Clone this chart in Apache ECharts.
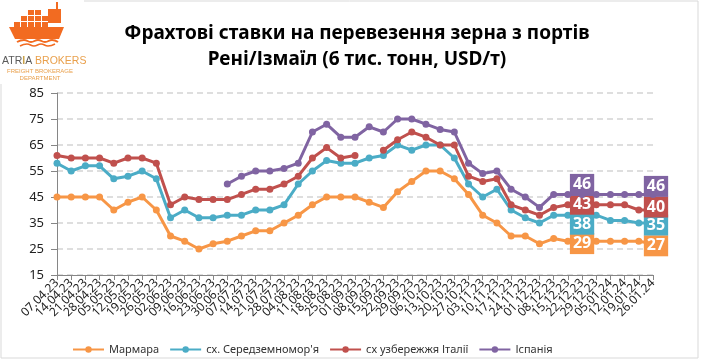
<!DOCTYPE html>
<html><head><meta charset="utf-8">
<script src="https://cdn.jsdelivr.net/npm/echarts@6/dist/echarts.min.js"></script>
<style>html,body{margin:0;padding:0;background:#fff}#c{width:703px;height:362px}</style>
</head><body><div id="c"></div>
<script>
const categories = ['07.04.23','14.04.23','21.04.23','28.04.23','05.05.23','12.05.23','19.05.23','26.05.23','02.06.23','09.06.23','16.06.23','23.06.23','30.06.23','07.07.23','14.07.23','21.07.23','28.07.23','04.08.23','11.08.23','18.08.23','25.08.23','01.09.23','08.09.23','15.09.23','22.09.23','29.09.23','06.10.23','13.10.23','20.10.23','27.10.23','03.11.23','10.11.23','17.11.23','24.11.23','01.12.23','08.12.23','15.12.23','22.12.23','29.12.23','05.01.24','12.01.24','19.01.24','26.01.24'];
const marmara = [45,45,45,45,40,43,45,40,30,28,25,27,28,30,32,32,35,38,42,45,45,45,43,41,47,51,55,55,52,46,38,35,30,30,27,29,28,29,28,28,28,28,27];
const medEast = [58,55,57,57,52,53,55,52,37,40,37,37,38,38,40,40,42,50,55,59,58,58,60,61,65,63,65,65,60,50,45,48,40,37,35,38,38,38,38,36,36,35,35];
const italy = [61,60,60,60,58,60,60,58,42,45,44,44,44,46,48,48,50,53,60,64,60,61,null,63,67,70,68,65,65,53,51,52,42,40,38,41,42,43,42,42,42,40,40];
const spain = [null,null,null,null,null,null,null,null,null,null,null,null,50,53,55,55,56,58,70,73,68,68,72,70,75,75,73,71,70,58,54,55,48,45,41,46,46,46,46,46,46,46,46];
const seriesNames = ['Мармара', "сх. Середземномор'я", 'сх узбережжя Італії', 'Іспанія'];
const yMin = 15, yMax = 85, yStep = 10;
const labelIndices = [37, 42];

const colors = ['#F79646', '#4BACC6', '#C0504D', '#8064A2'];
const labelOffsets = [
  {37: [0, 5], 42: [3, 2]},
  {37: [0, 9], 42: [3, 2]},
  {37: [0, 2], 42: [3, -3]},
  {37: [0, -10], 42: [3, -8]}
];
const FONT = 'Noto Sans';

function build(values, si) {
  return values.map((v, i) => {
    if (labelIndices.includes(i) && v != null) {
      return {
        value: v,
        label: {
          show: true, position: 'inside', offset: labelOffsets[si][i],
          color: '#fff', fontWeight: 'bold', fontSize: 16, fontFamily: FONT,
          backgroundColor: colors[si], padding: [1, 3, 1, 3], lineHeight: 19
        }
      };
    }
    return v;
  });
}
const allValues = [marmara, medEast, italy, spain];
const series = allValues.map((vals, si) => ({
  name: seriesNames[si], type: 'line', data: build(vals, si),
  symbol: 'circle', symbolSize: 7, connectNulls: false,
  lineStyle: {width: 3, color: colors[si]},
  itemStyle: {color: colors[si]},
  emphasis: {disabled: true}, z: 2 + si, animation: false
}));

const chart = echarts.init(document.getElementById('c'), null, {renderer: 'canvas'});
const logoOrange = '#F26B21';
const containers = [];
[[28,10],[35,10],[21,16],[28,16],[35,16],[42,16],[14,22],[21,22],[28,22],[35,22],[42,22]].forEach(p => {
  containers.push({type: 'rect', shape: {x: p[0], y: p[1], width: 6, height: 5}, style: {fill: logoOrange}});
});
chart.setOption({
  animation: false,
  color: colors,
  title: {
    text: 'Фрахтові ставки на перевезення зерна з портів\nРені/Ізмаїл (6 тис. тонн, USD/т)',
    left: 352, top: 16, textAlign: 'center',
    textStyle: {fontFamily: FONT, fontSize: 19, fontWeight: 'bold', color: '#000', lineHeight: 26}
  },
  legend: {
    left: 67, top: 339, itemWidth: 31, itemHeight: 8, itemGap: 10,
    textStyle: {fontFamily: FONT, fontSize: 11, color: '#333'},
    data: seriesNames
  },
  grid: {left: 57, right: 50, top: 93, bottom: 87},
  xAxis: {
    type: 'category', data: categories, boundaryGap: false,
    axisLine: {lineStyle: {color: '#868686', width: 1}},
    axisTick: {show: true, interval: 0, length: 5, lineStyle: {color: '#868686'}},
    axisLabel: {interval: 0, rotate: 45, fontSize: 12, fontFamily: FONT, color: '#222', margin: 6}
  },
  yAxis: {
    type: 'value', min: yMin, max: yMax, interval: yStep,
    axisLine: {show: true, lineStyle: {color: '#868686', width: 1}},
    axisTick: {show: true, length: 6, lineStyle: {color: '#868686'}},
    axisLabel: {fontSize: 13, fontFamily: FONT, color: '#222', margin: 13},
    splitLine: {show: true, lineStyle: {color: '#D4D4D4', type: [6, 4], width: 1.5}}
  },
  graphic: [
    {type: 'rect', shape: {x: 1, y: 1, width: 697, height: 357}, style: {fill: 'none', stroke: '#D9D9D9', lineWidth: 1}, z: -10},
    {type: 'rect', shape: {x: 0, y: 0, width: 84, height: 84}, style: {fill: '#fff'}, z: -9},
    {type: 'group', children: containers.concat([
      {type: 'rect', shape: {x: 48, y: 9, width: 13, height: 14}, style: {fill: logoOrange}},
      {type: 'rect', shape: {x: 56, y: 2, width: 2, height: 8}, style: {fill: logoOrange}},
      {type: 'polygon', shape: {points: [[9,27],[64,27],[59,39],[15,39]]}, style: {fill: logoOrange}},
      {type: 'polyline', shape: {points: [[17,42],[24,40],[31,42],[38,40],[45,42],[52,40],[58,42]], smooth: 0.5}, style: {stroke: logoOrange, lineWidth: 2, fill: 'none'}},
      {type: 'polyline', shape: {points: [[20,46],[27,44],[34,46],[41,44],[48,46],[55,44]], smooth: 0.5}, style: {stroke: logoOrange, lineWidth: 1.5, fill: 'none'}},
      {type: 'text', x: 2, y: 61, style: {text: '{g|ATR}{y|I}{g|A }{o|BROKERS}', verticalAlign: 'middle',
        rich: {g: {fill: '#5A5A5A', fontSize: 10.5, fontFamily: 'Liberation Sans'}, y: {fill: '#C9A24A', fontSize: 10.5, fontFamily: 'Liberation Sans', fontWeight: 'bold'}, o: {fill: '#E9A04C', fontSize: 10.5, fontFamily: 'Liberation Sans'}}}},
      {type: 'text', x: 40, y: 71, style: {text: 'FREIGHT BROKERAGE', fill: '#E9A04C', fontSize: 6, fontFamily: 'Liberation Sans', align: 'center', verticalAlign: 'middle'}},
      {type: 'text', x: 40, y: 78, style: {text: 'DEPARTMENT', fill: '#E9A04C', fontSize: 6, fontFamily: 'Liberation Sans', align: 'center', verticalAlign: 'middle'}}
    ])}
  ],
  series: series
});
</script></body></html>
